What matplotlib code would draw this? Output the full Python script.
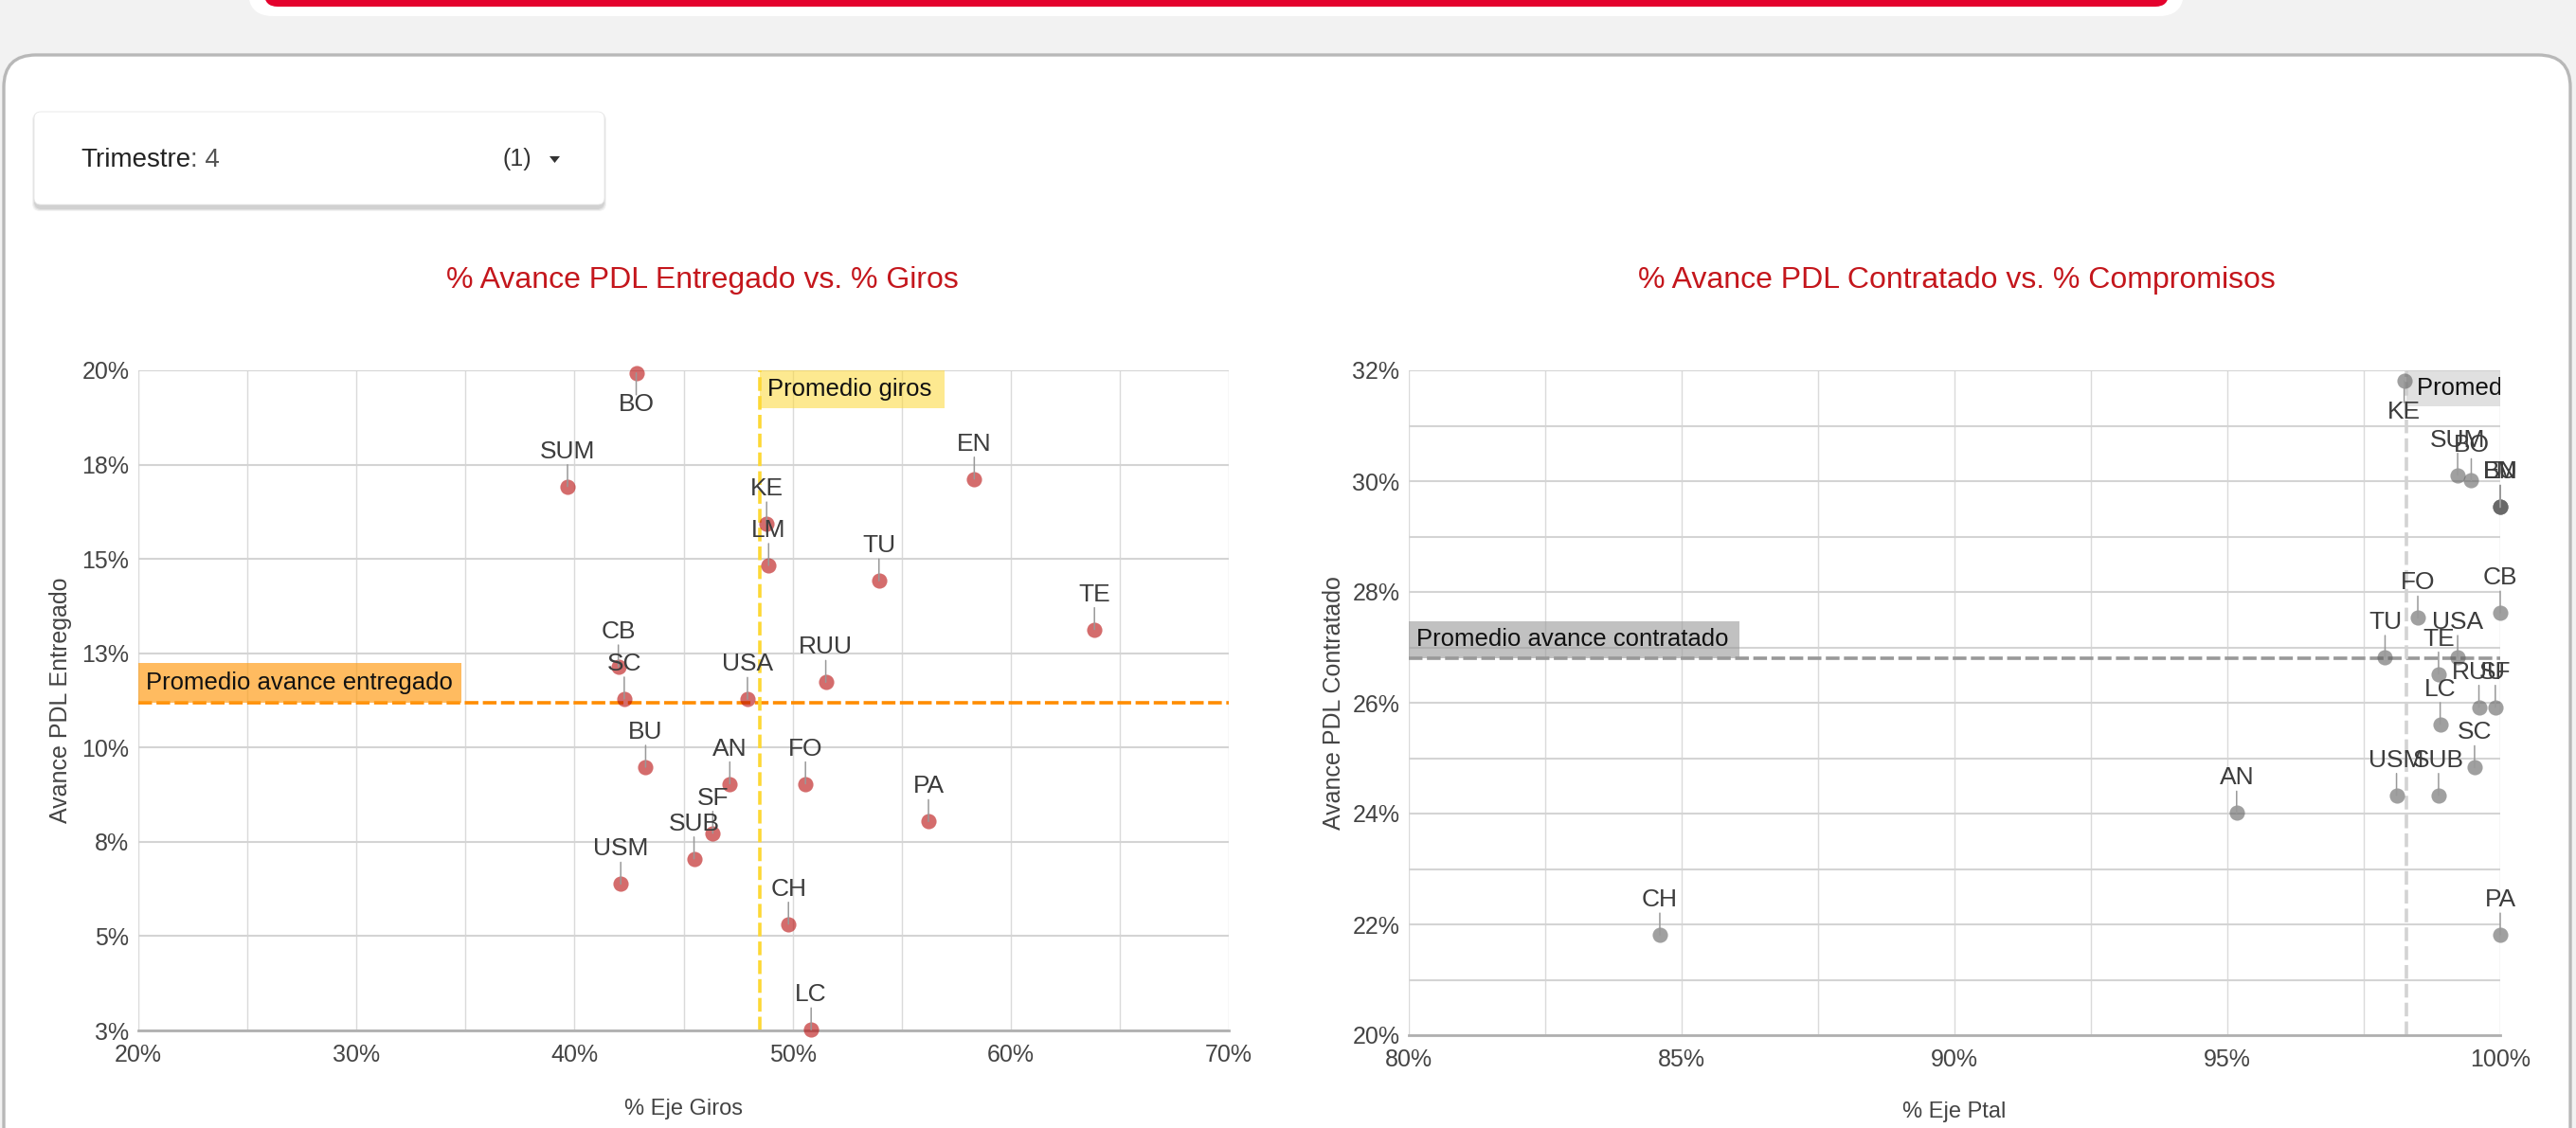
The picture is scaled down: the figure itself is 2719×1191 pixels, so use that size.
import matplotlib
matplotlib.use("Agg")
import matplotlib.pyplot as plt
from matplotlib.patches import FancyBboxPatch, Rectangle, Polygon

plt.rcParams['font.family'] = ['Liberation Sans', 'DejaVu Sans']

# ---------------- data ----------------
codes_left = ["BO", "SUM", "EN", "KE", "LM", "TU", "TE", "CB", "SC", "USA",
              "RUU", "BU", "AN", "FO", "SF", "SUB", "USM", "PA", "CH", "LC"]
giros = [42.83, 39.68, 58.33, 48.81, 48.90, 53.96, 63.84, 42.01, 42.28, 47.93,
         51.52, 43.26, 47.12, 50.59, 46.34, 45.48, 42.12, 56.23, 49.81, 50.85]
entregado = [19.93, 16.92, 17.12, 15.93, 14.83, 14.42, 13.13, 12.14, 11.29, 11.28,
             11.73, 9.48, 9.04, 9.04, 7.73, 7.05, 6.38, 8.04, 5.32, 2.52]
prom_giros = 48.5
prom_entregado = 11.18

codes_right = ["KE", "SUM", "BO", "BU", "EN", "LM", "CB", "FO", "TU", "USA",
               "TE", "RUU", "SF", "LC", "SC", "USM", "SUB", "AN", "CH", "PA"]
ptal = [98.24, 99.22, 99.47, 100.0, 100.0, 100.0, 100.0, 98.49, 97.89, 99.22,
        98.87, 99.61, 99.91, 98.90, 99.53, 98.10, 98.87, 95.17, 84.60, 100.0]
contratado = [31.81, 30.11, 30.01, 29.53, 29.53, 29.53, 27.62, 27.53, 26.82, 26.82,
              26.52, 25.92, 25.92, 25.61, 24.83, 24.33, 24.33, 24.01, 21.81, 21.81]
prom_ptal = 98.28
prom_contratado = 26.81

left_xticks = [20, 30, 40, 50, 60, 70]
left_xticklabels = ["20%", "30%", "40%", "50%", "60%", "70%"]
left_xminor = [25, 35, 45, 55, 65]
left_yticks = [2.5, 5, 7.5, 10, 12.5, 15, 17.5, 20]
left_yticklabels = ["3%", "5%", "8%", "10%", "13%", "15%", "18%", "20%"]

right_xticks = [80, 85, 90, 95, 100]
right_xticklabels = ["80%", "85%", "90%", "95%", "100%"]
right_xminor = [82.5, 87.5, 92.5, 97.5]
right_yticks = [20, 22, 24, 26, 28, 30, 32]
right_yticklabels = ["20%", "22%", "24%", "26%", "28%", "30%", "32%"]
right_yminor = [21, 23, 25, 27, 29, 31]

below_left = ["BO"]
below_right = ["KE"]

# ---------------- figure ----------------
W, H = 2719, 1191
fig = plt.figure(figsize=(W / 100, H / 100), dpi=100, facecolor='#f2f2f2')

bg = fig.add_axes([0, 0, 1, 1])
bg.set_xlim(0, W)
bg.set_ylim(H, 0)
bg.axis('off')
bg.set_zorder(0)

# top red bar with white rim
bg.add_patch(FancyBboxPatch((262, -60), 2043, 77, boxstyle='round,pad=0,rounding_size=26',
                            fc='white', ec='none'))
bg.add_patch(FancyBboxPatch((279, -60), 2010, 67, boxstyle='round,pad=0,rounding_size=14',
                            fc='#e4022d', ec='none'))
# main panel
bg.add_patch(FancyBboxPatch((4, 58), 2709, 1250, boxstyle='round,pad=0,rounding_size=34',
                            fc='white', ec='#b8b8b8', lw=2.4))
# filter control with shadow
for i, a in enumerate([0.05, 0.06, 0.08]):
    d = 3 - i
    bg.add_patch(FancyBboxPatch((36 - d + 1, 118 + 3 - d + 1), 602 + 2 * d - 2, 98 + 2 * d,
                                boxstyle='round,pad=0,rounding_size=8',
                                fc='black', ec='none', alpha=a))
bg.add_patch(FancyBboxPatch((36, 118), 602, 98, boxstyle='round,pad=0,rounding_size=7',
                            fc='white', ec='#e6e6e6', lw=0.6))
t1 = bg.text(85, 169, "Trimestre", fontsize=20, color='#222222', va='center', ha='left')
bg.annotate(": 4", xy=(1, 0), xycoords=t1, fontsize=20, color='#555555',
            va='bottom', ha='left')
bg.text(531, 168, "(1)", fontsize=18, color='#333333', va='center', ha='left')
bg.add_patch(Polygon([(580, 165), (591, 165), (585.5, 172)], closed=True, fc='#333333', ec='none'))


def add_axes_px(l, t, r, b):
    return fig.add_axes([l / W, 1 - b / H, (r - l) / W, (b - t) / H])


def style_axes(ax, xlabel, ylabel, xlab_y, ylab_x):
    ax.set_facecolor('none')
    ax.set_zorder(1)
    for s in ['left', 'right', 'top']:
        ax.spines[s].set_visible(False)
    ax.spines['bottom'].set_color('#b0b0b0')
    ax.spines['bottom'].set_linewidth(2.0)
    ax.grid(True, which='both', axis='y', color='#d4d4d4', lw=1.5)
    ax.grid(True, which='both', axis='x', color='#dadada', lw=1.0)
    ax.set_axisbelow(True)
    ax.tick_params(which='both', length=0, labelsize=18, labelcolor='#444444')
    ax.tick_params(axis='y', pad=7)
    ax.tick_params(axis='x', pad=10)
    ax.set_xlabel(xlabel, fontsize=17, color='#444444')
    ax.set_ylabel(ylabel, fontsize=18, color='#444444')
    ax.xaxis.set_label_coords(0.5, xlab_y)
    ax.yaxis.set_label_coords(ylab_x, 0.5)


def draw_labels(ax, xs, ys, codes, below):
    for x, y, lab in zip(xs, ys, codes):
        sgn = -1 if lab in below else 1
        ax.annotate('', xy=(x, y), xytext=(0, sgn * 23), textcoords='offset pixels',
                    arrowprops=dict(arrowstyle='-', color='#999999', lw=1.1,
                                    shrinkA=0, shrinkB=0),
                    annotation_clip=False, zorder=4)
        if sgn > 0:
            ax.annotate(lab, xy=(x, y), xytext=(0, 30), textcoords='offset pixels',
                        ha='center', va='baseline', fontsize=19, color='#3c3c3c',
                        annotation_clip=False, zorder=5)
        else:
            ax.annotate(lab, xy=(x, y), xytext=(0, -21), textcoords='offset pixels',
                        ha='center', va='top', fontsize=19, color='#3c3c3c',
                        annotation_clip=False, zorder=5)


# ---------------- left chart ----------------
L = (146, 391, 1297, 1088)
axL = add_axes_px(*L)
axL.set_xlim(20, 70)
axL.set_ylim(2.5, 20)
axL.set_xticks(left_xticks)
axL.set_xticklabels(left_xticklabels)
axL.set_xticks(left_xminor, minor=True)
axL.set_yticks(left_yticks)
axL.set_yticklabels(left_yticklabels)
style_axes(axL, "% Eje Giros", "Avance PDL Entregado", -0.103, -0.061)

pxL = (70 - 20) / (L[2] - L[0])
pyL = (20 - 2.5) / (L[3] - L[1])

axL.axhline(prom_entregado, color='#ff8c00', lw=2.6, dashes=(4, 1.3), zorder=2)
axL.axvline(prom_giros, color='#fdd835', lw=2.6, dashes=(4, 1.5), zorder=2)
axL.add_patch(Rectangle((20, prom_entregado), 341 * pxL, 42 * pyL, fc='#ff9f1c',
                        alpha=0.7, ec='none', zorder=2.5))
axL.text(20 + 8 * pxL, prom_entregado + 21 * pyL, "Promedio avance entregado",
         fontsize=18.5, color='#111111', va='center', ha='left', zorder=3)
axL.add_patch(Rectangle((prom_giros, 20 - 40 * pyL), 195 * pxL, 40 * pyL, fc='#fdd835',
                        alpha=0.55, ec='none', zorder=2.5))
axL.text(prom_giros + 8 * pxL, 20 - 20 * pyL, "Promedio giros",
         fontsize=18.5, color='#111111', va='center', ha='left', zorder=3)

axL.scatter(giros, entregado, s=135, color='#b80a0a', alpha=0.6, lw=0, zorder=3,
            clip_on=False)
draw_labels(axL, giros, entregado, codes_left, below_left)

fig.text(741 / W, 1 - 296 / H, "% Avance PDL Entregado vs. % Giros", fontsize=23,
         color='#c4161c', ha='center', va='center')

# ---------------- right chart ----------------
R = (1487, 391, 2639, 1093)
axR = add_axes_px(*R)
axR.set_xlim(80, 100)
axR.set_ylim(20, 32)
axR.set_xticks(right_xticks)
axR.set_xticklabels(right_xticklabels)
axR.set_xticks(right_xminor, minor=True)
axR.set_yticks(right_yticks)
axR.set_yticklabels(right_yticklabels)
axR.set_yticks(right_yminor, minor=True)
style_axes(axR, "% Eje Ptal", "Avance PDL Contratado", -0.0997, -0.058)

pxR = (100 - 80) / (R[2] - R[0])
pyR = (32 - 20) / (R[3] - R[1])

axR.axhline(prom_contratado, color='#999999', lw=2.6, dashes=(4, 1.3), zorder=2)
axR.axvline(prom_ptal, color='#d3d3d3', lw=2.6, dashes=(4, 1.5), zorder=2)
axR.add_patch(Rectangle((80, prom_contratado), 349 * pxR, 39 * pyR, fc='#999999',
                        alpha=0.6, ec='none', zorder=2.5))
axR.text(80 + 8 * pxR, prom_contratado + 19.5 * pyR, "Promedio avance contratado",
         fontsize=18.5, color='#111111', va='center', ha='left', zorder=3)
axR.add_patch(Rectangle((prom_ptal, 32 - 38 * pyR), 100 - prom_ptal, 38 * pyR,
                        fc='#cccccc', alpha=0.6, ec='none', zorder=2.5))
axR.text(prom_ptal + 11 * pxR, 32 - 19 * pyR, "Promedio compromisos",
         fontsize=18.5, color='#111111', va='center', ha='left', zorder=3, clip_on=True)

axR.scatter(ptal, contratado, s=135, color='#5e5e5e', alpha=0.59, lw=0, zorder=3,
            clip_on=False)
draw_labels(axR, ptal, contratado, codes_right, below_right)

fig.text(2065 / W, 1 - 296 / H, "% Avance PDL Contratado vs. % Compromisos", fontsize=23,
         color='#c4161c', ha='center', va='center')

fig.savefig("out.png", dpi=100, facecolor=fig.get_facecolor())
